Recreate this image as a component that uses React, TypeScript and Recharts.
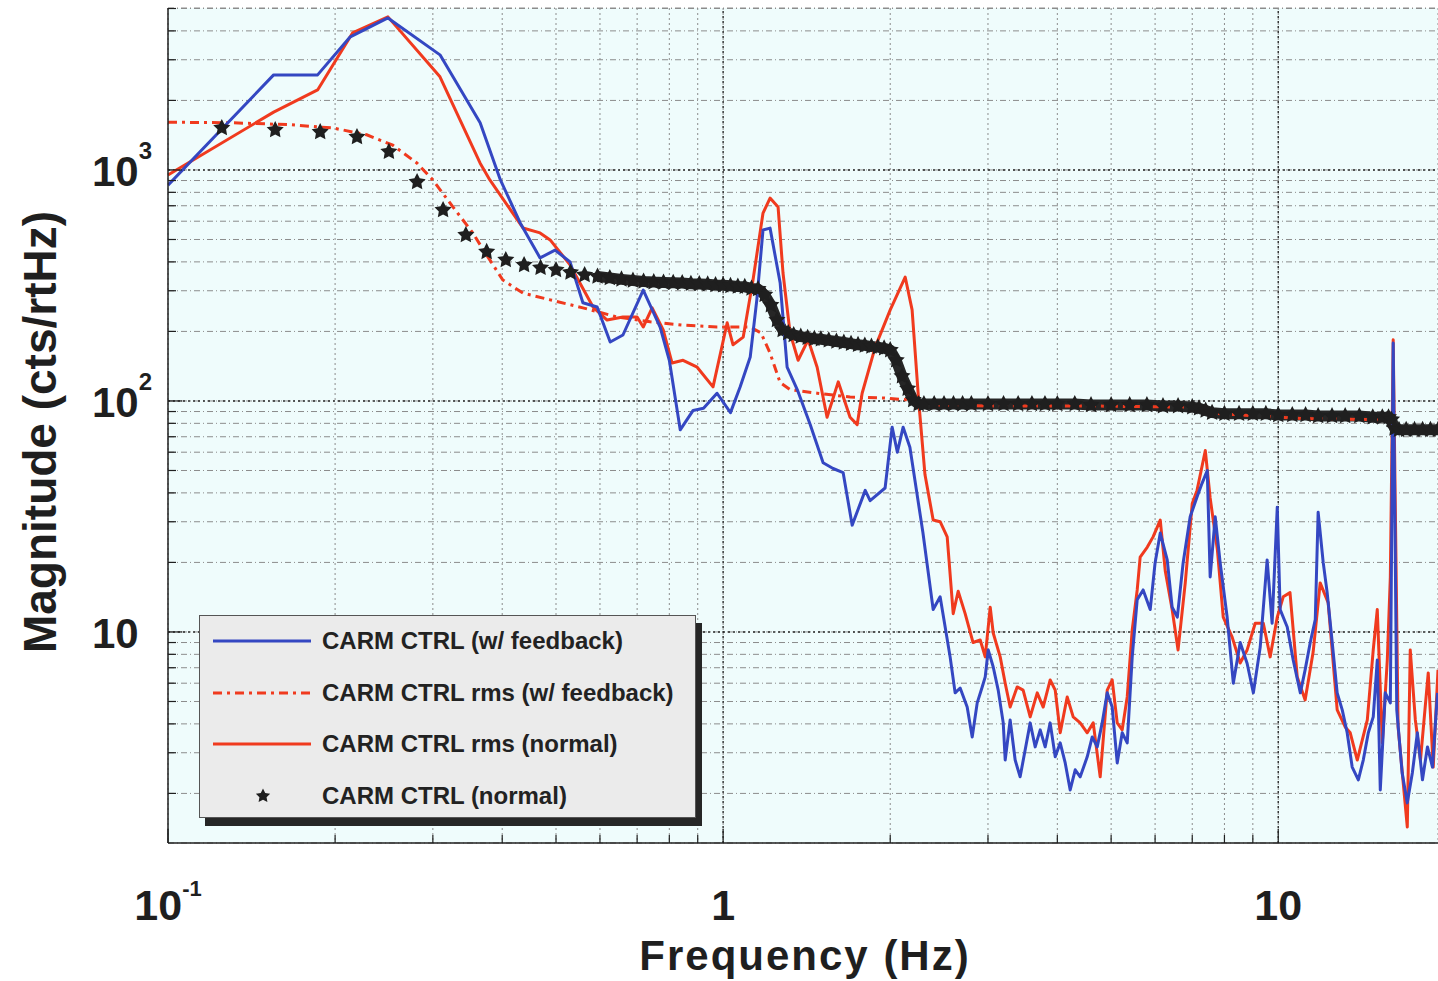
import React from 'react';
import { LineChart, Line, XAxis, YAxis, CartesianGrid, ReferenceLine, Label } from 'recharts';

const FONT = '"Liberation Sans", Arial, Helvetica, sans-serif';
const BLUE = '#3447c2';
const RED = '#f03a1e';
const INK = '#1f1f1f';

// axes
const X_DOMAIN = [0.1, 19.4];
const Y_DOMAIN = [1.22, 5025];
const X_TICKS = [0.1, 0.2, 0.3, 0.4, 0.5, 0.6, 0.7, 0.8, 0.9, 1, 2, 3, 4, 5, 6, 7, 8, 9, 10];
const Y_TICKS = [
  2, 3, 4, 5, 6, 7, 8, 9, 10, 20, 30, 40, 50, 60, 70, 80, 90,
  100, 200, 300, 400, 500, 600, 700, 800, 900, 1000, 2000, 3000, 4000, 5000,
];
const X_DECADES = [0.1, 1, 10];
const X_BASE = ['10', '1', '10'];
const X_SUP = ['-1', '', ''];
const Y_DECADES = [10, 100, 1000];
const Y_SUP = ['', '2', '3'];

// CARM CTRL (w/ feedback) - blue
const BLUE_F = [
  0.1, 0.155, 0.186, 0.213, 0.249, 0.309, 0.365, 0.397, 0.431, 0.468,
  0.498, 0.53, 0.559, 0.593, 0.626, 0.66, 0.718, 0.77, 0.8, 0.837,
  0.883, 0.922, 0.975, 1.031, 1.073, 1.119, 1.15, 1.18, 1.215, 1.267,
  1.304, 1.36, 1.435, 1.514, 1.578, 1.645, 1.708, 1.803, 1.84, 1.958,
  2.016, 2.06, 2.11, 2.17, 2.29, 2.39, 2.46, 2.564, 2.618, 2.673,
  2.752, 2.81, 2.869, 2.929, 2.966, 3.003, 3.066, 3.13, 3.196, 3.222,
  3.289, 3.358, 3.428, 3.5, 3.574, 3.649, 3.726, 3.803, 3.883, 3.965,
  4.048, 4.133, 4.219, 4.308, 4.398, 4.528, 4.623, 4.72, 4.818, 4.92,
  5.022, 5.128, 5.235, 5.345, 5.457, 5.571, 5.71, 5.88, 6.0, 6.13,
  6.31, 6.44, 6.58, 6.74, 6.94, 7.14, 7.29, 7.45, 7.54, 7.7,
  7.86, 8.09, 8.3, 8.54, 8.79, 9.02, 9.28, 9.55, 9.75, 9.96,
  10.08, 10.38, 10.64, 10.96, 11.18, 11.42, 11.66, 11.8, 12.05, 12.25,
  12.51, 12.77, 13.04, 13.31, 13.59, 13.94, 14.23, 14.53, 14.83, 15.08,
  15.27, 15.59, 15.92, 16.11, 16.35, 16.72, 17.08, 17.44, 17.81, 18.19,
  18.57, 18.96, 19.36,
];
const BLUE_V = [
  860, 2580, 2580, 3770, 4550, 3150, 1600, 905, 590, 416,
  450, 400, 266, 255, 180, 193, 302, 209, 150, 75,
  91, 93, 108, 89, 115, 155, 274, 550, 560, 324,
  140, 112, 79, 54, 51, 49, 29, 41, 37, 42,
  77, 60, 77, 63, 27, 12.5, 14.2, 7.8, 5.45, 5.72,
  4.73, 3.51, 4.93, 5.78, 6.39, 8.36, 7.05, 5.6, 4.04, 2.79,
  4.16, 2.79, 2.36, 3.08, 4.04, 3.18, 3.77, 3.18, 4.04, 2.88,
  3.31, 2.71, 2.07, 2.53, 2.36, 2.88, 3.51, 3.18, 4.04, 5.45,
  4.73, 2.71, 3.66, 3.31, 7.8, 13.8, 15.2, 12.5, 19.9, 26.8,
  20.5, 12.8, 11.6, 19.9, 31.5, 38.4, 44, 50, 17.3, 31.5,
  19.9, 11.6, 6.0, 9.0, 7.3, 5.45, 8.6, 20.5, 10.9, 34.7,
  12.5, 10.5, 7.56, 5.45, 6.85, 9.0, 11.3, 33, 20, 14.8,
  9.0, 5.45, 4.6, 3.66, 2.6, 2.29, 2.79, 3.66, 4.29, 7.56,
  2.07, 5.45, 4.93, 178, 4.6, 2.45, 1.82, 2.45, 3.66, 2.29,
  3.18, 2.6, 5.45,
];

// CARM CTRL rms (normal) - red solid
const RED_F = [
  0.1, 0.155, 0.186, 0.215, 0.249, 0.309, 0.365, 0.38, 0.436, 0.468,
  0.488, 0.53, 0.583, 0.618, 0.66, 0.7, 0.718, 0.745, 0.78, 0.809,
  0.847, 0.898, 0.959, 1.017, 1.042, 1.087, 1.132, 1.18, 1.215, 1.256,
  1.282, 1.32, 1.365, 1.423, 1.477, 1.539, 1.612, 1.693, 1.744, 1.78,
  1.879, 2.0, 2.128, 2.19, 2.25, 2.31, 2.39, 2.46, 2.533, 2.597,
  2.651, 2.729, 2.82, 2.905, 2.966, 3.028, 3.066, 3.156, 3.222, 3.289,
  3.386, 3.471, 3.574, 3.68, 3.772, 3.883, 3.965, 4.048, 4.167, 4.272,
  4.398, 4.528, 4.642, 4.778, 4.92, 5.022, 5.128, 5.235, 5.345, 5.457,
  5.571, 5.64, 5.81, 5.95, 6.13, 6.26, 6.44, 6.6, 6.8, 7.0,
  7.14, 7.39, 7.54, 7.77, 7.96, 8.26, 8.54, 8.79, 9.09, 9.4,
  9.67, 9.96, 10.21, 10.5, 10.82, 11.18, 11.56, 11.9, 12.3, 12.77,
  13.2, 13.48, 13.88, 14.47, 14.83, 15.08, 15.4, 15.72, 15.92, 16.11,
  16.44, 17.08, 17.29, 17.66, 18.04, 18.63, 19.02, 19.4,
];
const RED_V = [
  951, 1780, 2220, 3920, 4600, 2530, 1070, 905, 561, 534,
  498, 388, 255, 224, 231, 231, 209, 253, 203, 146,
  150, 140, 115, 218, 175, 189, 334, 651, 756, 692,
  358, 197, 150, 184, 140, 85, 121, 85, 79, 108,
  171, 248, 344, 248, 101, 48, 30.5, 30, 25.8, 12,
  15, 12, 9.0, 9.23, 7.8, 12.8, 9.9, 7.8, 6.0, 4.73,
  5.78, 5.6, 4.29, 5.45, 4.73, 6.2, 5.6, 3.66, 5.23, 4.29,
  4.04, 3.66, 4.04, 2.36, 5.6, 6.2, 4.04, 3.77, 5.23, 10.2,
  15.2, 21.1, 23.3, 25.8, 30.5, 18.3, 12.5, 8.36, 16.3, 36,
  41, 61, 38, 22.6, 11.6, 9.5, 7.34, 8.36, 10.9, 10.9,
  7.8, 11.6, 14.2, 14.8, 6.39, 5.08, 8.2, 16.3, 13.4, 4.6,
  3.88, 3.66, 2.79, 4.16, 8.36, 12.5, 3.31, 7.56, 17.3, 184,
  3.88, 1.43, 8.36, 4.16, 2.79, 6.65, 2.6, 6.85,
];

// CARM CTRL rms (w/ feedback) - red dash-dot
const RMS_F = [
  0.1, 0.131, 0.166, 0.198, 0.228, 0.254, 0.281, 0.3, 0.326, 0.354,
  0.37, 0.401, 0.436, 0.488, 0.559, 0.644, 0.739, 0.847, 0.975, 1.119,
  1.17, 1.215, 1.267, 1.32, 1.477, 1.693, 1.943, 2.17, 2.284, 3.156,
  4.78, 6.86, 7.45, 10.96, 15.92, 16.24, 19.4,
];
const RMS_V = [
  1610, 1600, 1570, 1520, 1420, 1280, 1070, 905, 692, 534,
  450, 334, 293, 274, 253, 231, 220, 213, 209, 209,
  197, 161, 120, 112, 108, 104, 103, 101, 96, 95,
  95, 94, 88.7, 84, 82.7, 76, 76,
];

// CARM CTRL (normal) - stars
const STAR_F = [
  0.125, 0.156, 0.188, 0.219, 0.25, 0.281, 0.313, 0.344, 0.375, 0.406,
  0.438, 0.469, 0.5, 0.531, 0.563, 0.594, 0.625, 0.656, 0.688, 0.719,
  0.75, 0.781, 0.813, 0.844, 0.875, 0.906, 0.938, 0.969, 1.0, 1.031,
  1.063, 1.094, 1.125, 1.156, 1.188, 1.219, 1.25, 1.28, 1.31, 1.34,
  1.38, 1.42, 1.46, 1.5, 1.55, 1.6, 1.65, 1.7, 1.75, 1.8,
  1.85, 1.9, 1.95, 2.0, 2.05, 2.1, 2.15, 2.2, 2.25, 2.3,
  2.4, 2.5, 2.6, 2.7, 2.8, 3.0, 3.2, 3.4, 3.6, 3.8,
  4.0, 4.3, 4.6, 5.0, 5.4, 5.8, 6.2, 6.6, 7.0, 7.2,
  7.4, 7.6, 8.0, 8.5, 9.0, 9.5, 10, 10.6, 11.2, 11.8,
  12.5, 13.2, 14, 14.8, 15.4, 15.8, 16.0, 16.2, 16.5, 17,
  17.6, 18.2, 18.8, 19.4,
];
const STAR_V = [
  1520, 1490, 1460, 1390, 1200, 887, 671, 523, 442, 408,
  388, 377, 369, 360, 351, 346, 341, 336, 332, 329,
  327, 326, 325, 324, 322, 321, 320, 318, 317, 315,
  313, 312, 307, 305, 288, 260, 224, 203, 197, 193,
  190, 188, 186, 185, 183, 181, 179, 177, 175, 174,
  172, 171, 169, 166, 150, 128, 113, 101, 97, 97,
  97, 97, 97, 97, 97, 97, 97, 97, 97, 97,
  97, 97, 96, 96, 96, 96, 95, 95, 94, 93,
  91, 89, 88, 88, 88, 88, 87, 87, 87, 86,
  86, 86, 86, 85, 85, 85, 83, 76, 75, 75,
  75, 75, 75, 75,
];

const LEGEND_LABELS = [
  'CARM CTRL (w/ feedback)',
  'CARM CTRL rms (w/ feedback)',
  'CARM CTRL rms (normal)',
  'CARM CTRL (normal)',
];

const zip = (fs: number[], vs: number[]) => fs.map((f, i) => ({ f, v: vs[i] }));
const blueData = zip(BLUE_F, BLUE_V);
const redData = zip(RED_F, RED_V);
const rmsData = zip(RMS_F, RMS_V);
const starData = zip(STAR_F, STAR_V);
// where the stars pile up into a solid band
const bandData = starData.filter(d => d.f >= 0.59);

function starPoints(cx: number, cy: number, r: number) {
  const pts: string[] = [];
  for (let k = 0; k < 10; k++) {
    const rr = k % 2 === 0 ? r : r * 0.5;
    const a = -Math.PI / 2 + (k * Math.PI) / 5;
    pts.push(`${cx + rr * Math.cos(a)},${cy + rr * Math.sin(a)}`);
  }
  return pts.join(' ');
}

function StarDot(props: any) {
  const { cx, cy } = props;
  if (cx == null || cy == null) return null;
  return <polygon points={starPoints(cx, cy, 9)} fill={INK} />;
}

function XTick(props: any) {
  const { x, y, payload } = props;
  const i = X_DECADES.indexOf(payload.value);
  const major = i >= 0;
  return (
    <g>
      <line x1={x} x2={x} y1={y} y2={y - (major ? 14 : 8)} stroke={INK} strokeWidth={1.2} />
      {major && (
        <text x={x} y={y + 77} textAnchor="middle" fontSize={43} fontWeight={700} fill={INK} fontFamily={FONT}>
          {X_BASE[i]}
          {X_SUP[i] && (
            <tspan dy={-24} fontSize={22}>
              {X_SUP[i]}
            </tspan>
          )}
        </text>
      )}
    </g>
  );
}

function TopTick(props: any) {
  const { x, y, payload } = props;
  const major = X_DECADES.includes(payload.value);
  return <line x1={x} x2={x} y1={y} y2={y + (major ? 14 : 8)} stroke={INK} strokeWidth={1.2} />;
}

function YTick(props: any) {
  const { x, y, payload } = props;
  const i = Y_DECADES.indexOf(payload.value);
  const major = i >= 0;
  return (
    <g>
      <line x1={x} x2={x + (major ? 14 : 8)} y1={y} y2={y} stroke={INK} strokeWidth={1.2} />
      {major && (
        <text x={x - 76} y={y + 16} fontSize={42} fontWeight={700} fill={INK} fontFamily={FONT}>
          10
          {Y_SUP[i] && (
            <tspan dy={-27} fontSize={24}>
              {Y_SUP[i]}
            </tspan>
          )}
        </text>
      )}
    </g>
  );
}

function LegendBox() {
  const rowTop = [25, 77, 128, 180];
  return (
    <div
      style={{
        position: 'absolute',
        left: 199,
        top: 615,
        width: 497,
        height: 203,
        boxSizing: 'border-box',
        background: '#ebebeb',
        border: '1.5px solid #555',
        boxShadow: '6px 8px 0 #262626',
        fontFamily: FONT,
      }}
    >
      {LEGEND_LABELS.map((label, i) => (
        <div key={label} style={{ position: 'absolute', left: 0, top: rowTop[i] - 14, height: 28, width: '100%' }}>
          <svg width={110} height={28} style={{ position: 'absolute', left: 8, top: 0 }}>
            {i === 0 && <line x1={5} x2={103} y1={14} y2={14} stroke={BLUE} strokeWidth={3} />}
            {i === 1 && (
              <line x1={5} x2={103} y1={14} y2={14} stroke={RED} strokeWidth={3} strokeDasharray="9 5 3 5" />
            )}
            {i === 2 && <line x1={5} x2={103} y1={14} y2={14} stroke={RED} strokeWidth={3} />}
            {i === 3 && <polygon points={starPoints(55, 14, 7.5)} fill={INK} />}
          </svg>
          <span
            style={{
              position: 'absolute',
              left: 122,
              top: 0,
              lineHeight: '28px',
              fontSize: 24,
              fontWeight: 700,
              color: '#222',
              whiteSpace: 'nowrap',
            }}
          >
            {label}
          </span>
        </div>
      ))}
    </div>
  );
}

export default function App() {
  return (
    <div style={{ position: 'absolute', left: 0, top: 0, width: 1438, height: 981, background: '#fff', fontFamily: FONT }}>
      <LineChart width={1438} height={981} margin={{ top: 8, right: 0, bottom: 0, left: 0 }}>
        <CartesianGrid horizontal vertical={false} fill="#effcfc" stroke="#8c8c8c" strokeDasharray="6 3 1 3" />
        <CartesianGrid horizontal={false} vertical stroke="#8c8c8c" strokeDasharray="2 3" />
        <XAxis
          dataKey="f"
          type="number"
          scale="log"
          domain={X_DOMAIN}
          allowDataOverflow
          ticks={X_TICKS}
          interval={0}
          height={138}
          tickSize={0}
          tickMargin={0}
          tickLine={false}
          tick={(p: any) => <XTick {...p} />}
          axisLine={{ stroke: INK, strokeWidth: 1.5 }}
        >
          <Label
            content={() => (
              <text
                x={805}
                y={970}
                textAnchor="middle"
                fontSize={42}
                letterSpacing={2}
                fontWeight={700}
                fill={INK}
                fontFamily={FONT}
              >
                Frequency (Hz)
              </text>
            )}
          />
        </XAxis>
        <XAxis
          xAxisId="top"
          orientation="top"
          dataKey="f"
          type="number"
          scale="log"
          domain={X_DOMAIN}
          allowDataOverflow
          ticks={X_TICKS}
          interval={0}
          height={0}
          tickSize={0}
          tickMargin={0}
          tickLine={false}
          tick={(p: any) => <TopTick {...p} />}
          axisLine={{ stroke: INK, strokeWidth: 1.5 }}
        />
        <YAxis
          type="number"
          scale="log"
          domain={Y_DOMAIN}
          allowDataOverflow
          ticks={Y_TICKS}
          interval={0}
          width={168}
          tickSize={0}
          tickMargin={0}
          tickLine={false}
          tick={(p: any) => <YTick {...p} />}
          axisLine={{ stroke: INK, strokeWidth: 1.5 }}
        >
          <Label
            content={() => (
              <text
                x={56}
                y={432}
                transform="rotate(-90 56 432)"
                textAnchor="middle"
                fontSize={46}
                fontWeight={700}
                fill={INK}
                fontFamily={FONT}
              >
                Magnitude (cts/rtHz)
              </text>
            )}
          />
        </YAxis>
        {X_DECADES.slice(1).map(v => (
          <ReferenceLine key={`x${v}`} x={v} stroke="#2a2a2a" strokeWidth={1.4} strokeDasharray="2 3" />
        ))}
        {Y_DECADES.map(v => (
          <ReferenceLine key={`y${v}`} y={v} stroke="#2a2a2a" strokeWidth={1.4} strokeDasharray="2 3" />
        ))}
        <Line
          data={bandData}
          dataKey="v"
          stroke="#262626"
          strokeWidth={11}
          strokeLinejoin="round"
          dot={false}
          activeDot={false}
          isAnimationActive={false}
        />
        <Line
          data={starData}
          dataKey="v"
          stroke="none"
          dot={(p: any) => <StarDot key={`s${p.index}`} {...p} />}
          activeDot={false}
          isAnimationActive={false}
        />
        <Line
          data={rmsData}
          dataKey="v"
          stroke={RED}
          strokeWidth={3}
          strokeDasharray="9 5 3 5"
          dot={false}
          activeDot={false}
          isAnimationActive={false}
        />
        <Line
          data={redData}
          dataKey="v"
          stroke={RED}
          strokeWidth={3}
          strokeLinejoin="round"
          dot={false}
          activeDot={false}
          isAnimationActive={false}
        />
        <Line
          data={blueData}
          dataKey="v"
          stroke={BLUE}
          strokeWidth={3}
          strokeLinejoin="round"
          dot={false}
          activeDot={false}
          isAnimationActive={false}
        />
      </LineChart>
      <LegendBox />
    </div>
  );
}
